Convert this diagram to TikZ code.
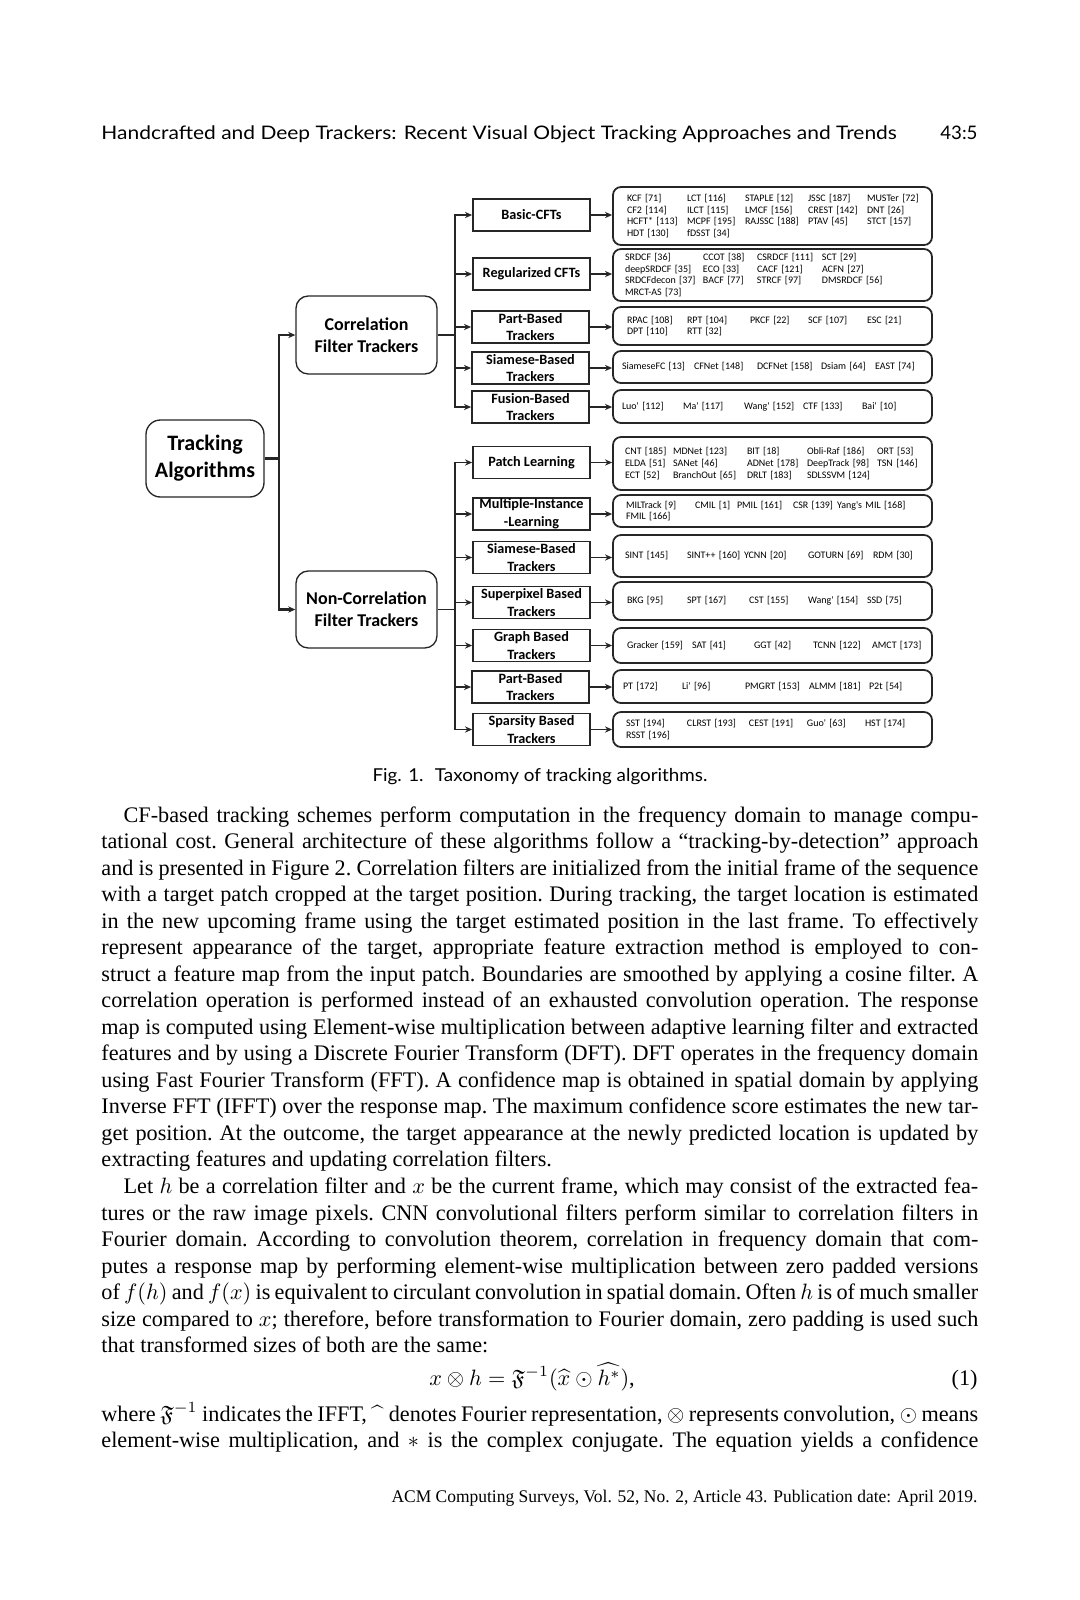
\documentclass[tikz,border=0pt]{standalone}
\usepackage{fontspec}
\usepackage{amssymb}
\usepackage{graphicx}
\setmainfont{Liberation Serif}
\newfontfamily\calfont{Carlito}
\newfontfamily\hdfont{Lato}
\usetikzlibrary{arrows.meta}
\newdimen\pxw \pxw=0.45pt
\newcommand\cel[2]{\makebox[#1\pxw][l]{#2}}
\newcommand\ind[1]{\hspace*{#1\pxw}}
\newcommand\jl[1]{\makebox[394.6pt][s]{#1}\\}
\newcommand\bodyfont{\fontsize{10}{11.94}\selectfont\frenchspacing}
\newcommand\rbfont{\calfont\fontsize{4.5}{5.2}\selectfont}
\newcommand\cbfont{\calfont\bfseries\fontsize{6.4}{8}\selectfont}
\definecolor{lc}{HTML}{262626}
\tikzset{
  ln/.style={draw=lc, line width=0.75pt},
  trunk/.style={draw=lc, line width=1.1pt},
  tip/.style={-{Stealth[length=3.2pt,width=2.8pt]}},
  mainbox/.style={draw=lc, line width=0.6pt, rounded corners=5.5pt, fill=white, align=center, inner sep=0pt, minimum width=63.45pt, minimum height=35.1pt, font=\calfont\bfseries\fontsize{8.1}{9.9}\selectfont},
  cbox/.style={draw=lc, line width=0.8pt, fill=white, minimum width=52.65pt, minimum height=14.4pt, inner sep=0pt, align=center, font=\cbfont},
  rbox/.style={draw=lc, line width=0.8pt, rounded corners=3.6pt, fill=white, inner sep=0pt, text width=143.55pt, align=left, font=\rbfont},
  txt/.style={inner sep=0pt, font=\bodyfont}
}
\begin{document}
\begin{tikzpicture}[x=0.45pt,y=-0.45pt]
\fill[white] (0,0) rectangle (1080,1600);
\useasboundingbox (0,0) rectangle (1080,1600);

% header
\node[anchor=base west, inner sep=0pt] (head) at (101,139) {\resizebox{357.9pt}{\height}{\hdfont\fontsize{8.4}{10}\selectfont Handcrafted and Deep Trackers: Recent Visual Object Tracking Approaches and Trends}};
\node[anchor=base east, inner sep=0pt] (pg) at (978,139) {\hdfont\fontsize{8.4}{10}\selectfont 43:5};

% diagram: main nodes
\node[mainbox, minimum width=53.1pt, minimum height=34.65pt, rounded corners=6.5pt, font=\calfont\bfseries\fontsize{9.9}{12.2}\selectfont] (ta) at (205,458.5) {Tracking\\Algorithms};
\node[mainbox] (cf) at (366.5,335) {Correlation\\Filter Trackers};
\node[mainbox, minimum height=34.65pt] (ncf) at (366.5,609.5) {Non-Correlation\\Filter Trackers};

% children
\node[cbox] (c1) at (531.5,215) {Basic-CFTs};
\node[cbox] (c2) at (531.5,274) {Regularized CFTs};
\node[cbox] (c3) at (530.5,327) {Part-Based\\Trackers};
\node[cbox] (c4) at (530.5,368) {Siamese-Based\\Trackers};
\node[cbox] (c5) at (530.5,407) {Fusion-Based\\Trackers};
\node[cbox] (n1) at (531.5,462.5) {Patch Learning};
\node[cbox] (n2) at (531.5,514) {Multiple-Instance\\-Learning};
\node[cbox] (n3) at (531.5,557.5) {Siamese-Based\\Trackers};
\node[cbox] (n4) at (531.5,602.5) {Superpixel Based\\Trackers};
\node[cbox] (n5) at (531.5,645.5) {Graph Based\\Trackers};
\node[cbox] (n6) at (530.5,687) {Part-Based\\Trackers};
\node[cbox] (n7) at (531.5,729.5) {Sparsity Based\\Trackers};

% right boxes
\node[rbox, minimum height=26.1pt] (r1) at (772.5,216) {%
\ind{14}\cel{60}{KCF [71]}\cel{58}{LCT [116]}\cel{63}{STAPLE [12]}\cel{59}{JSSC [187]}MUSTer [72]\\
\ind{14}\cel{60}{CF2 [114]}\cel{58}{ILCT [115]}\cel{63}{LMCF [156]}\cel{59}{CREST [142]}DNT [26]\\
\ind{14}\cel{60}{HCFT* [113]}\cel{58}{MCPF [195]}\cel{63}{RAJSSC [188]}\cel{59}{PTAV [45]}STCT [157]\\
\ind{14}\cel{60}{HDT [130]}fDSST [34]};
\node[rbox, minimum height=23.4pt] (r2) at (772.5,275) {%
\ind{12}\cel{78}{SRDCF [36]}\cel{54}{CCOT [38]}\cel{65}{CSRDCF [111]}SCT [29]\\
\ind{12}\cel{78}{deepSRDCF [35]}\cel{54}{ECO [33]}\cel{65}{CACF [121]}ACFN [27]\\
\ind{12}\cel{78}{SRDCFdecon [37]}\cel{54}{BACF [77]}\cel{65}{STRCF [97]}DMSRDCF [56]\\
\ind{12}MRCT-AS [73]};
\node[rbox, minimum height=17.1pt] (r3) at (772.5,326) {%
\ind{14}\cel{60}{RPAC [108]}\cel{63}{RPT [104]}\cel{58}{PKCF [22]}\cel{59}{SCF [107]}ESC [21]\\
\ind{14}\cel{60}{DPT [110]}RTT [32]};
\node[rbox, minimum height=14.4pt] (r4) at (772.5,367) {%
\ind{9}\cel{72}{SiameseFC [13]}\cel{63}{CFNet [148]}\cel{64}{DCFNet [158]}\cel{54}{Dsiam [64]}EAST [74]};
\node[rbox, minimum height=14.85pt] (r5) at (772.5,406.5) {%
\ind{9}\cel{61}{Luo' [112]}\cel{61}{Ma' [117]}\cel{59}{Wang' [152]}\cel{59}{CTF [133]}Bai' [10]};
\node[rbox, minimum height=23.85pt] (r6) at (772.5,463.5) {%
\ind{12}\cel{48}{CNT [185]}\cel{74}{MDNet [123]}\cel{60}{BIT [18]}\cel{70}{Obli-Raf [186]}ORT [53]\\
\ind{12}\cel{48}{ELDA [51]}\cel{74}{SANet [46]}\cel{60}{ADNet [178]}\cel{70}{DeepTrack [98]}TSN [146]\\
\ind{12}\cel{48}{ECT [52]}\cel{74}{BranchOut [65]}\cel{60}{DRLT [183]}SDLSSVM [124]};
\node[rbox, minimum height=14.4pt] (r7) at (772.5,511) {%
\ind{13}\cel{69}{MILTrack [9]}\cel{42}{CMIL [1]}\cel{56}{PMIL [161]}\cel{44}{CSR [139]}Yang's MIL [168]\\
\ind{13}FMIL [166]};
\node[rbox, minimum height=18.9pt] (r8) at (772.5,556) {%
\ind{12}\cel{62}{SINT [145]}\cel{57}{SINT++ [160]}\cel{64}{YCNN [20]}\cel{65}{GOTURN [69]}RDM [30]};
\node[rbox, minimum height=17.1pt] (r9) at (772.5,601) {%
\ind{14}\cel{60}{BKG [95]}\cel{62}{SPT [167]}\cel{59}{CST [155]}\cel{59}{Wang' [154]}SSD [75]};
\node[rbox, minimum height=15.75pt] (r10) at (772.5,645.5) {%
\ind{14}\cel{65}{Gracker [159]}\cel{62}{SAT [41]}\cel{59}{GGT [42]}\cel{59}{TCNN [122]}AMCT [173]};
\node[rbox, minimum height=14.85pt] (r11) at (772.5,686.5) {%
\ind{10}\cel{59}{PT [172]}\cel{63}{Li' [96]}\cel{64}{PMGRT [153]}\cel{60}{ALMM [181]}P2t [54]};
\node[rbox, minimum height=15.75pt] (r12) at (772.5,729.5) {%
\ind{13}\cel{61}{SST [194]}\cel{62}{CLRST [193]}\cel{58}{CEST [191]}\cel{58}{Guo' [63]}HST [174]\\
\ind{13}RSST [196]};

% connectors
\coordinate (j0) at (279,458.5);
\draw[trunk] (ta.east) -- (j0);
\draw[trunk, tip] (j0) |- (cf.west);
\draw[trunk, tip] (j0) |- (ncf.west);
\coordinate (j1) at (455,335);
\draw[ln] (cf.east) -- (j1);
\foreach \n in {c1,c2,c3,c4,c5} \draw[ln, tip] (j1) |- (\n.west);
\coordinate (j2) at (455,609.5);
\draw[ln] (ncf.east) -- (j2);
\foreach \n in {n1,n2,n3,n4,n5,n6,n7} \draw[ln, tip] (j2) |- (\n.west);
\foreach \a/\b in {c1/r1,c2/r2,c3/r3,c4/r4,c5/r5,n1/r6,n2/r7,n3/r8,n4/r9,n5/r10,n6/r11,n7/r12}
  \draw[ln, tip] (\a.east) -- (\a.east -| \b.west);

% caption
\node[anchor=base, inner sep=0pt] (cap) at (540,781) {\resizebox{150.7pt}{\height}{\hdfont\fontsize{8}{10}\selectfont Fig. 1.\hspace{0.6em}Taxonomy of tracking algorithms.}};

% body text
\node[txt, anchor=base west] (body) at (101,822) {\parbox[t]{394.6pt}{\spaceskip=2.5pt plus 3pt minus 1pt
\jl{\hspace*{10pt}CF-based tracking schemes perform computation in the frequency domain to manage compu-}
\jl{tational cost. General architecture of these algorithms follow a “tracking-by-detection” approach}
\jl{and is presented in Figure 2. Correlation filters are initialized from the initial frame of the sequence}
\jl{with a target patch cropped at the target position. During tracking, the target location is estimated}
\jl{in the new upcoming frame using the target estimated position in the last frame. To effectively}
\jl{represent appearance of the target, appropriate feature extraction method is employed to con-}
\jl{struct a feature map from the input patch. Boundaries are smoothed by applying a cosine filter. A}
\jl{correlation operation is performed instead of an exhausted convolution operation. The response}
\jl{map is computed using Element-wise multiplication between adaptive learning filter and extracted}
\jl{features and by using a Discrete Fourier Transform (DFT). DFT operates in the frequency domain}
\jl{using Fast Fourier Transform (FFT). A confidence map is obtained in spatial domain by applying}
\jl{Inverse FFT (IFFT) over the response map. The maximum confidence score estimates the new tar-}
\jl{get position. At the outcome, the target appearance at the newly predicted location is updated by}
extracting features and updating correlation filters.\\
\jl{\hspace*{10pt}Let $h$ be a correlation filter and $x$ be the current frame, which may consist of the extracted fea-}
\jl{tures or the raw image pixels. CNN convolutional filters perform similar to correlation filters in}
\jl{Fourier domain. According to convolution theorem, correlation in frequency domain that com-}
\jl{putes a response map by performing element-wise multiplication between zero padded versions}
\jl{of $f(h)$ and $f(x)$ is equivalent to circulant convolution in spatial domain. Often $h$ is of much smaller}
\makebox[394.6pt][s]{size compared to $x$; therefore, before transformation to Fourier domain, zero padding is used such}}};
\node[txt, anchor=base west] (last) at (101,1352.7) {that transformed sizes of both are the same:};

% equation
\node[txt, anchor=base] (eq) at (532,1385) {$x \otimes h = \mathfrak{F}^{-1}(\widehat{x} \odot \widehat{h^{*}})$,};
\node[txt, anchor=base east] (eqn) at (978,1385) {(1)};

\node[txt, anchor=base west] (where) at (101,1421) {\parbox[t]{394.6pt}{\spaceskip=2.5pt plus 3pt minus 1pt
\jl{where $\mathfrak{F}^{-1}$ indicates the IFFT, $\widehat{\phantom{x}}$ denotes Fourier representation, $\otimes$ represents convolution, $\odot$ means}
\makebox[394.6pt][s]{element-wise multiplication, and $*$ is the complex conjugate. The equation yields a confidence}}};

% footer
\node[anchor=base east, inner sep=0pt] (foot) at (978,1502) {\resizebox{263.7pt}{\height}{\fontsize{8}{10}\selectfont ACM Computing Surveys, Vol. 52, No. 2, Article 43. Publication date: April 2019.}};
\end{tikzpicture}
\end{document}
